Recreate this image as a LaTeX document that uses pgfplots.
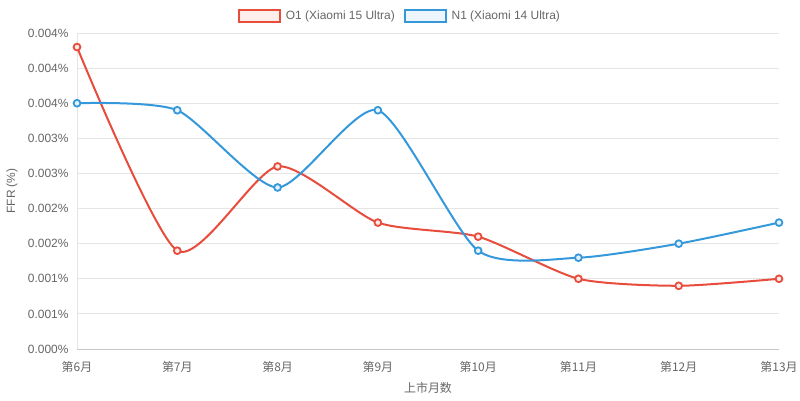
\documentclass[border=0pt]{standalone}
\usepackage{pgfplots}
\pgfplotsset{compat=1.18}
\usepackage{fontspec}
\setmainfont{Liberation Sans}
\newfontfamily\cjk{Noto Sans CJK SC}
\definecolor{cred}{RGB}{231,76,60}
\definecolor{cblue}{RGB}{52,152,219}
\definecolor{txt}{RGB}{102,102,102}
\definecolor{gridc}{RGB}{229,229,229}
\begin{document}
\begin{tikzpicture}
\path[use as bounding box] (0,0) rectangle (800bp,401bp);
\begin{axis}[
  at={(77bp,52bp)}, anchor=south west,
  scale only axis, width=702bp, height=316bp,
  xmin=6, xmax=13, ymin=0, ymax=0.0045,
  xtick={6,7,8,9,10,11,12,13},
  xticklabels={第6月,第7月,第8月,第9月,第10月,第11月,第12月,第13月},
  ytick={0,0.0005,0.001,0.0015,0.002,0.0025,0.003,0.0035,0.004,0.0045},
  yticklabels={0.000\%,0.001\%,0.001\%,0.002\%,0.002\%,0.003\%,0.003\%,0.004\%,0.004\%,0.004\%},
  scaled y ticks=false,
  ymajorgrids, grid style={gridc, line width=0.8bp},
  axis x line*=bottom, axis y line*=left,
  x axis line style={draw={rgb,255:red,200;green,200;blue,200}, line width=0.8bp, -},
  y axis line style={draw=gridc, line width=0.8bp, -},
  major tick length=0pt,
  xticklabel style={font=\cjk\fontsize{12}{14}\selectfont, text=txt, yshift=-9bp},
  yticklabel style={font=\fontsize{12}{14}\selectfont, text=txt, xshift=-5bp},
  xlabel={\cjk 上市月数}, ylabel={FFR (\%)},
  every axis x label/.style={at={(axis description cs:0.5,0)}, yshift=-39bp, anchor=center, font=\fontsize{12}{14}\selectfont, text=txt},
  every axis y label/.style={at={(axis description cs:0,0.5)}, xshift=-65bp, rotate=90, anchor=center, font=\fontsize{12}{14}\selectfont, text=txt},
  legend style={at={(axis description cs:0.5,1)}, xshift=-28bp, yshift=17bp, anchor=center, draw=none, fill=none, legend columns=-1, font=\fontsize{12}{14}\selectfont, text=txt, /tikz/every even column/.append style={column sep=7bp}, /tikz/every odd column/.append style={column sep=3bp}},
  clip=false,
]
\addplot[cred, line width=2bp, smooth, tension=0.4, mark=*, mark size=3.4bp, mark options={fill=cred!12, draw=cred, line width=1.8bp},
  legend image code/.code={\draw[draw=cred, line width=1.8bp, fill=cred!10] (0bp,-6bp) rectangle (41bp,6bp);}]
  coordinates {(6,0.0043) (7,0.0014) (8,0.0026) (9,0.0018) (10,0.0016) (11,0.0010) (12,0.0009) (13,0.0010)};
\addlegendentry{O1 (Xiaomi 15 Ultra)}
\addplot[cblue, line width=2bp, smooth, tension=0.4, mark=*, mark size=3.4bp, mark options={fill=cblue!12, draw=cblue, line width=1.8bp},
  legend image code/.code={\draw[draw=cblue, line width=1.8bp, fill=cblue!10] (0bp,-6bp) rectangle (41bp,6bp);}]
  coordinates {(6,0.0035) (7,0.0034) (8,0.0023) (9,0.0034) (10,0.0014) (11,0.0013) (12,0.0015) (13,0.0018)};
\addlegendentry{N1 (Xiaomi 14 Ultra)}
\end{axis}
\end{tikzpicture}
\end{document}
